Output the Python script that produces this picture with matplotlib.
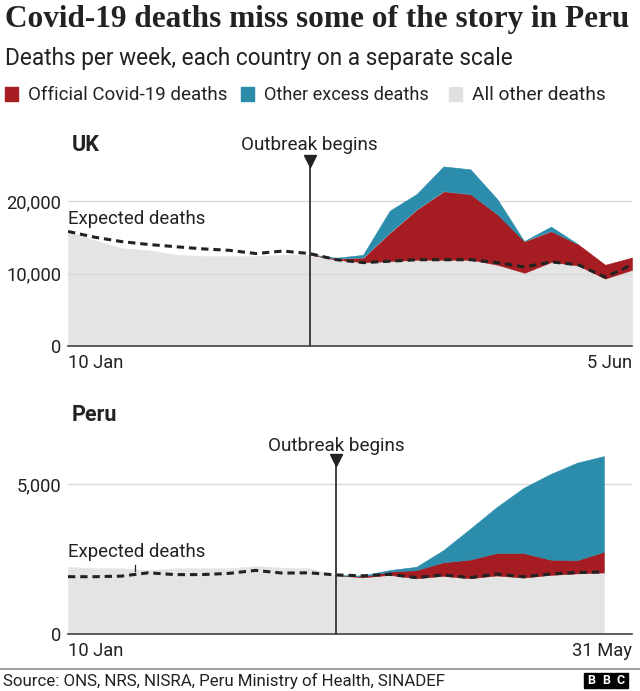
import numpy as np
import matplotlib.pyplot as plt
import matplotlib.transforms as mtransforms
from matplotlib.lines import Line2D
from matplotlib.patches import Rectangle
from matplotlib.ticker import FuncFormatter

plt.rcParams['font.family'] = ['Roboto', 'DejaVu Sans']

W, H = 640, 691

# UK, weekly from 10 Jan to 5 Jun
uk_weeks = np.arange(22)
uk_expected = [15800, 15000, 14400, 14000, 13700, 13400, 13200, 12750, 13100, 12750, 11900,
               11500, 11700, 11900, 11900, 11900, 11500, 10900, 11600, 11200, 9500, 11200]
uk_other = [15800, 14600, 13500, 13200, 12600, 12400, 12400, 12400, 12600, 12600, 11900,
            11550, 11700, 11900, 11900, 11900, 11200, 10100, 11600, 11100, 9300, 10500]
uk_covid = [0, 0, 0, 0, 0, 0, 0, 0, 0, 0, 100,
            600, 3900, 6900, 9400, 9000, 6900, 4300, 4200, 2900, 1900, 1700]
uk_excess = [0, 0, 0, 0, 0, 0, 0, 0, 0, 0, 100,
             350, 3000, 2100, 3400, 3400, 2100, 0, 600, 0, 0, 0]
uk_outbreak = 9
uk_xlabels = ['10 Jan', '5 Jun']

# Peru, weekly
peru_weeks = np.arange(21)
peru_expected = [1910, 1910, 1930, 2040, 1980, 1980, 2020, 2120, 2030, 2040, 1970,
                 1940, 1990, 1880, 1970, 1880, 2000, 1910, 2000, 2050, 2070]
peru_other = [2240, 2190, 2190, 2130, 2190, 2190, 2190, 2260, 2210, 2190, 1960,
              1890, 1970, 1860, 1940, 1860, 1950, 1880, 1970, 2020, 2050]
peru_covid = [0, 0, 0, 0, 0, 0, 0, 0, 0, 0, 0,
              30, 110, 270, 450, 620, 750, 820, 510, 440, 690]
peru_excess = [0, 0, 0, 0, 0, 0, 0, 0, 0, 0, 0,
               30, 50, 110, 400, 1020, 1530, 2170, 2850, 3250, 3190]
peru_outbreak = 10
peru_xlabels = ['10 Jan', '31 May']

RED = '#a51d22'
BLUE = '#2b8dab'
GREY = '#e4e4e4'
INK = '#222222'

fig = plt.figure(figsize=(W / 100, H / 100), dpi=100)


def box(left, top, right, bottom):
    return [left / W, 1 - bottom / H, (right - left) / W, (bottom - top) / H]


def ftxt(x, y, s, **kw):
    kw.setdefault('va', 'center')
    kw.setdefault('color', INK)
    return fig.text(x / W, 1 - y / H, s, **kw)


def fit(t, width_px):
    r = fig.canvas.get_renderer()
    w = t.get_window_extent(r).width
    t.set_fontsize(t.get_fontsize() * width_px / w)


def panel(ax, x, other, covid, excess, expected, ylim, yticks, xmax,
          outbreak, marker_y, text_y, xlabels):
    other = np.array(other, float)
    top1 = other + np.array(covid)
    top2 = top1 + np.array(excess)
    ax.fill_between(x, 0, other, color=GREY, lw=0.4, zorder=0.2)
    ax.fill_between(x, other, top1, where=top1 > other, interpolate=True,
                    color=RED, lw=0.4, zorder=1)
    ax.fill_between(x, top1, top2, where=top2 > top1, interpolate=True,
                    color=BLUE, lw=0.4, zorder=1)
    ax.plot(x, expected, color=INK, lw=2.2, dashes=(2.4, 1.6), zorder=3)

    ax.plot([outbreak, outbreak], [0, marker_y], color='#333333', lw=1.3,
            zorder=4, clip_on=False)
    ax.plot(outbreak, marker_y, marker='v', color='#222222', ms=8,
            zorder=5, clip_on=False)
    tr = mtransforms.blended_transform_factory(ax.transData, fig.transFigure)
    t = ax.text(outbreak, 1 - text_y / H, 'Outbreak begins', transform=tr,
                ha='center', va='center', fontsize=12, color=INK)
    fit(t, 137)

    ax.set_xlim(0, xmax)
    ax.set_ylim(*ylim)
    ax.set_yticks(yticks)
    ax.yaxis.set_major_formatter(FuncFormatter(lambda v, p: f'{v:,.0f}'))
    ax.set_xticks([0, xmax])
    ax.set_xticklabels(xlabels)
    labs = ax.get_xticklabels()
    labs[0].set_ha('left')
    labs[1].set_ha('right')
    ax.tick_params(length=0, labelsize=13.2, colors=INK, pad=5)
    ax.tick_params(axis='x', pad=6)
    ax.yaxis.grid(True, color='#d9d9d9', lw=1)
    ax.set_axisbelow(True)
    for s in ['top', 'right', 'left']:
        ax.spines[s].set_visible(False)
    ax.spines['bottom'].set_color('#444444')
    ax.spines['bottom'].set_linewidth(1.2)
    ax.spines['bottom'].set_zorder(6)


ax1 = fig.add_axes(box(68, 157.5, 632, 346))
panel(ax1, uk_weeks, uk_other, uk_covid, uk_excess, uk_expected,
      (0, 26000), [0, 10000, 20000], 21, uk_outbreak, 25500, 145, uk_xlabels)

ax2 = fig.add_axes(box(68, 454, 632, 634))
panel(ax2, peru_weeks, peru_other, peru_covid, peru_excess, peru_expected,
      (0, 6000), [0, 5000], 21.05, peru_outbreak, 5800, 446, peru_xlabels)
ax2.plot([2.5, 2.5], [2100, 2300], color=INK, lw=0.9, zorder=3)

# panel titles and labels
ftxt(72, 145, 'UK', fontsize=15.5, fontweight='bold')
ftxt(72, 415, 'Peru', fontsize=15.5, fontweight='bold')
t = ftxt(68, 219, 'Expected deaths', fontsize=12)
fit(t, 137)
t = ftxt(68, 552, 'Expected deaths', fontsize=12)
fit(t, 137)

# header
t = ftxt(5, 19, 'Covid-19 deaths miss some of the story in Peru',
         fontsize=18, fontweight='bold', family=['Liberation Serif'])
fit(t, 623)
t = ftxt(5, 59, 'Deaths per week, each country on a separate scale', fontsize=14)
fit(t, 510)

legend_items = [('Official Covid-19 deaths', RED, 5, 199),
                ('Other excess deaths', BLUE, 241, 165),
                ('All other deaths', '#e0e0e0', 449, 133)]
for label, col, x0, wpx in legend_items:
    fig.add_artist(Rectangle(((x0) / W, 1 - 101 / H), 13 / W, 14 / H,
                             transform=fig.transFigure, color=col))
    t = ftxt(x0 + 23, 95, label, fontsize=12)
    fit(t, wpx)

# footer
fig.add_artist(Line2D([0, 1], [1 - 669 / H] * 2, transform=fig.transFigure,
                      color='#8a8a8a', lw=1.2))
t = ftxt(3, 681, 'Source: ONS, NRS, NISRA, Peru Ministry of Health, SINADEF', fontsize=11)
fit(t, 442)
for i, ch in enumerate('BBC'):
    x0 = 584 + i * 15
    fig.add_artist(Rectangle((x0 / W, 1 - 688 / H), 14 / W, 15 / H,
                             transform=fig.transFigure, color='#000000'))
    fig.text((x0 + 7) / W, 1 - 680.5 / H, ch, color='white', fontsize=9,
             fontweight='bold', ha='center', va='center')

fig.savefig('out.png', dpi=100)
